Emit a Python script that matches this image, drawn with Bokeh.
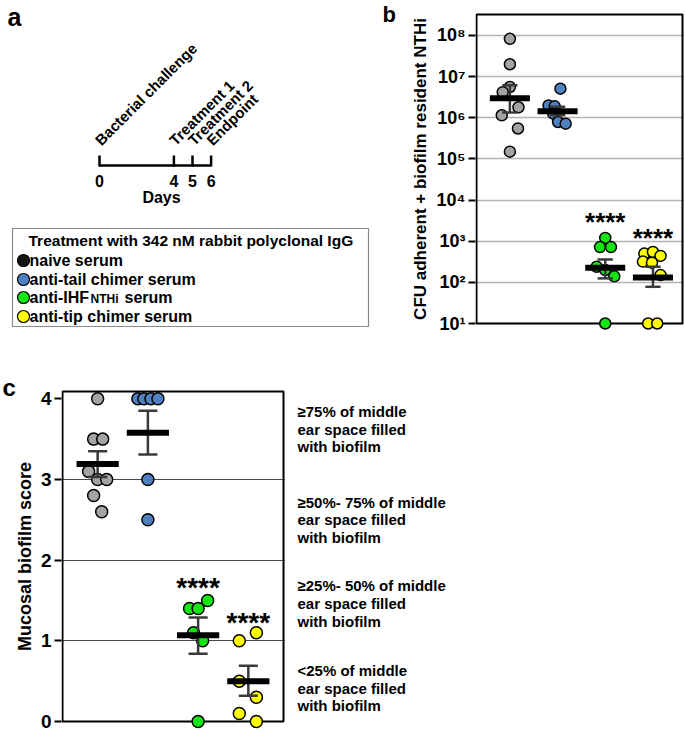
import numpy as np
from bokeh.plotting import figure
from bokeh.models import Range1d, FixedTicker, ColumnDataSource
from bokeh.layouts import column, row
from bokeh.core.properties import value
from bokeh.embed import file_html
from bokeh.resources import INLINE

FONT = "Liberation Sans"

# ---------------- data ----------------
legend_title = "Treatment with 342 nM rabbit polyclonal IgG"
legend_labels = ["naive serum", "anti-tail chimer serum", "anti-IHF", "anti-tip chimer serum"]
ihf_sub = "NTHi"
ihf_rest = "serum"
group_colors = ["#a3a3a3", "#4f81c0", "#14e614", "#ffff00"]
legend_colors = ["#161616", "#4f81c0", "#14e614", "#ffff00"]
categories = [1, 2, 3, 4]

timeline_days = [0, 4, 5, 6]
timeline_events = ["Bacterial challenge", "Treatment 1", "Treatment 2", "Endpoint"]
timeline_title = "Days"

# panel b: CFU (log scale)
cfu_naive = [8.3e7, 2.0e7, 5.6e6, 4.2e6, 1.8e6, 1.15e6, 5.5e5, 1.5e5]
cfu_tail = [5.1e6, 2.0e6, 1.9e6, 1.26e6, 7.9e5, 7.2e5]
cfu_ihf = [1200, 720, 720, 240, 200, 140, 10]
cfu_tip = [500, 550, 440, 320, 300, 150, 10, 10]
cfu_jit_naive = [0, 0, 0, -0.15, 0.18, -0.17, 0.17, 0]
cfu_jit_tail = [0.06, -0.19, -0.06, -0.09, 0.01, 0.17]
cfu_jit_ihf = [0, -0.11, 0.12, -0.18, 0, 0.19, 0]
cfu_jit_tip = [-0.18, 0, 0.16, -0.21, -0.02, 0.16, -0.10, 0.09]
cfu_mean = [3.0e6, 1.45e6, 225, 132]
cfu_err_lo = [1.35e6, 1.15e6, 125, 78]
cfu_err_hi = [6.2e6, 1.85e6, 360, 240]
cfu_star_cat = [3, 4]
cfu_star_y = [2900, 1200]
cfu_ticks = [1e1, 1e2, 1e3, 1e4, 1e5, 1e6, 1e7, 1e8]
cfu_tick_labels = ["10¹", "10²", "10³", "10⁴", "10⁵", "10⁶", "10⁷", "10⁸"]
cfu_label = "CFU adherent + biofilm resident NTHi"
cfu_axis_min, cfu_axis_max = 1e1, 10 ** 8.51

# panel c: mucosal biofilm score
score_naive = [4.0, 3.5, 3.5, 3.1, 3.0, 3.0, 2.8, 2.6]
score_tail = [4.0, 4.0, 4.0, 4.0, 3.0, 2.5]
score_ihf = [1.5, 1.4, 1.4, 1.1, 1.0, 0.0]
score_tip = [1.1, 1.0, 0.5, 0.3, 0.1, 0.0]
score_jit_naive = [0, -0.08, 0.10, -0.18, 0, 0.18, -0.08, 0.08]
score_jit_tail = [-0.20, -0.08, 0.06, 0.20, 0, 0]
score_jit_ihf = [0.19, -0.17, 0, -0.09, 0.09, 0]
score_jit_tip = [0.16, -0.18, -0.18, 0.16, -0.18, 0.16]
score_mean = [3.19, 3.58, 1.07, 0.50]
score_err_lo = [3.03, 3.31, 0.84, 0.32]
score_err_hi = [3.35, 3.85, 1.29, 0.69]
score_star_cat = [3, 4]
score_star_y = [1.66, 1.23]
score_ticks = [0, 1, 2, 3, 4]
score_grid = [1, 2, 3]
score_label = "Mucosal biofilm score"
score_axis_min, score_axis_max = 0.0, 4.09
score_desc = [
    ["≥75% of middle", "ear space filled", "with biofilm"],
    ["≥50%- 75% of middle", "ear space filled", "with biofilm"],
    ["≥25%- 50% of middle", "ear space filled", "with biofilm"],
    ["<25% of middle", "ear space filled", "with biofilm"],
]
score_desc_y = [3.84, 2.72, 1.68, 0.63]   # first-line centre of each block (score units)
desc_line_step = 0.218

# ---------------- layout (pixels) ----------------
ROW1_H, ROW2_H = 368, 363
A_W = 380
BL_W = 50            # strip with "b" and the b axis title
B_W = 684 - A_W - BL_W
B_BORDER_L = 45      # room for ticks + tick labels
B_BOX_L, B_BOX_R = 1, B_W - B_BORDER_L - 2   # box edges inside frame (frame px)
B_PX_TOP, B_PX_BOT = 14, 323                 # canvas px of axis max / min
CL_W = 36            # strip with "c" and the c axis title
C_W = 285 - CL_W
C_BORDER_L = 25
C_BOX_L, C_BOX_R = 1, C_W - C_BORDER_L - 2
C_PX_TOP, C_PX_BOT = 391 - ROW1_H, 721 - ROW1_H
D_W = 684 - CL_W - C_W
XB_BOX = (0.3, 4.62)
XC_BOX = (0.3, 4.7)


def extend(v0, p0, v1, p1, q0, q1):
    """linear value at pixel q0/q1 given value v0 at pixel p0 and v1 at p1"""
    k = (v1 - v0) / (p1 - p0)
    return v0 + (q0 - p0) * k, v0 + (q1 - p0) * k


def bold_text(p, **kw):
    kw.setdefault("text_font", value(FONT))
    kw.setdefault("text_font_style", "bold")
    kw.setdefault("text_color", "black")
    kw.setdefault("text_baseline", "middle")
    return p.text(**kw)


def blank(width, height, **kw):
    p = figure(width=width, height=height, x_range=Range1d(0, width), y_range=Range1d(height, 0),
               x_axis_location=None, y_axis_location=None, output_backend="svg",
               toolbar_location=None, min_border=0, **kw)
    p.grid.visible = False
    p.outline_line_color = None
    return p


# ---------------- panel a ----------------
DAY0_PX, PX_PER_DAY = 99, 18.6
pa = blank(A_W, ROW1_H)
pa.extra_x_ranges = {"days": Range1d(-DAY0_PX / PX_PER_DAY, (A_W - DAY0_PX) / PX_PER_DAY)}

bold_text(pa, x=[7], y=[16], text=["a"], text_font_size="25px", text_align="left")

LINE_Y = 165
pa.segment(x0=[min(timeline_days)], x1=[max(timeline_days)], y0=[LINE_Y], y1=[LINE_Y],
           x_range_name="days", line_color="black", line_width=2.5)
pa.segment(x0=timeline_days, x1=timeline_days, y0=[LINE_Y - 10] * 4, y1=[LINE_Y + 1] * 4,
           x_range_name="days", line_color="black", line_width=2.5)
bold_text(pa, x=timeline_days, y=[180] * 4, text=[str(d) for d in timeline_days],
          x_range_name="days", text_font_size="16px", text_align="center")
bold_text(pa, x=[161], y=[197], text=[timeline_title], text_font_size="16px", text_align="center")
bold_text(pa, x=timeline_days, y=[142] * 4, text=timeline_events, x_range_name="days",
          angle=np.pi / 4, text_font_size="15px", text_align="left", text_baseline="alphabetic",
          x_offset=-2)

# legend box
pa.quad(left=[12], right=[368], top=[228], bottom=[326], fill_color=None,
        line_color="#8a8a8a", line_width=1.2)
bold_text(pa, x=[28], y=[240], text=[legend_title], text_font_size="15.5px", text_align="left")
rows_y = [260, 279, 297, 316]
pa.scatter(x=[23] * 4, y=rows_y, size=12, fill_color=legend_colors, line_color="black",
           line_width=1.2)
bold_text(pa, x=[29] * 4, y=rows_y, text=legend_labels, text_font_size="16px", text_align="left")
bold_text(pa, x=[90], y=[rows_y[2] + 1.5], text=[ihf_sub], text_font_size="12px",
          text_align="left")
bold_text(pa, x=[124], y=[rows_y[2]], text=[ihf_rest], text_font_size="16px", text_align="left")

# ---------------- label strips ----------------
pbl = blank(BL_W, ROW1_H)
bold_text(pbl, x=[2], y=[14], text=["b"], text_font_size="22px", text_align="left")
bold_text(pbl, x=[40], y=[(B_PX_TOP + B_PX_BOT) / 2], text=[cfu_label], angle=np.pi / 2,
          text_font_size="17px", text_align="center")

pcl = blank(CL_W, ROW2_H)
bold_text(pcl, x=[2], y=[19], text=["c"], text_font_size="24px", text_align="left")
bold_text(pcl, x=[24], y=[(C_PX_TOP + C_PX_BOT) / 2], text=[score_label], angle=np.pi / 2,
          text_font_size="18px", text_align="center")


# ---------------- helpers for dot plots ----------------
def dot_source(groups, jitters):
    xs, ys, cols = [], [], []
    for cat, vals, jit, col in zip(categories, groups, jitters, group_colors):
        xs += [cat + j for j in jit]
        ys += list(vals)
        cols += [col] * len(vals)
    return ColumnDataSource(dict(x=xs, y=ys, c=cols))


def style_axis(p, font_size):
    p.outline_line_color = None
    p.xgrid.visible = False
    ax = p.yaxis[0]
    ax.axis_line_color = None
    ax.minor_tick_line_color = None
    ax.major_tick_in = 0
    ax.major_tick_out = 7
    ax.major_tick_line_width = 2
    ax.major_tick_line_color = "black"
    ax.major_label_text_font = FONT
    ax.major_label_text_font_style = "bold"
    ax.major_label_text_font_size = font_size
    ax.major_label_text_color = "black"
    ax.major_label_standoff = 3


cats = np.array(categories, dtype=float)

# ---------------- panel b ----------------
b_frame_w = B_W - B_BORDER_L
bx0, bx1 = extend(XB_BOX[0], B_BOX_L, XB_BOX[1], B_BOX_R, 0, b_frame_w)
by0, by1 = extend(np.log10(cfu_axis_max), B_PX_TOP, np.log10(cfu_axis_min), B_PX_BOT, 0, ROW1_H)
pb = figure(width=B_W, height=ROW1_H, x_range=Range1d(bx0, bx1),
            y_range=Range1d(10 ** by1, 10 ** by0), y_axis_type="log", x_axis_location=None,
            output_backend="svg", toolbar_location=None,
            min_border_left=B_BORDER_L, min_border_right=0, min_border_top=0, min_border_bottom=0)
style_axis(pb, "18px")
pb.yaxis.ticker = FixedTicker(ticks=cfu_ticks)
pb.yaxis.major_label_overrides = {t: l for t, l in zip(cfu_ticks, cfu_tick_labels)}
pb.ygrid.grid_line_color = "#b4b4b4"
pb.ygrid.grid_line_width = 1.5

src_b = dot_source([cfu_naive, cfu_tail, cfu_ihf, cfu_tip],
                   [cfu_jit_naive, cfu_jit_tail, cfu_jit_ihf, cfu_jit_tip])
pb.quad(left=[XB_BOX[0]], right=[XB_BOX[1]], bottom=[cfu_axis_min], top=[cfu_axis_max],
        fill_color=None, line_color="black", line_width=2)
pb.scatter("x", "y", source=src_b, size=11, fill_color="c", line_color="black", line_width=1.5)
pb.segment(x0=cats, x1=cats, y0=cfu_err_lo, y1=cfu_err_hi, line_color="#3a3a3a", line_width=2.5)
for yv in (cfu_err_lo, cfu_err_hi):
    pb.segment(x0=cats - 0.16, x1=cats + 0.16, y0=yv, y1=yv, line_color="#3a3a3a", line_width=2.5)
pb.segment(x0=cats - 0.42, x1=cats + 0.42, y0=cfu_mean, y1=cfu_mean, line_color="black",
           line_width=6)
bold_text(pb, x=cfu_star_cat, y=cfu_star_y, text=["****"] * 2, text_font_size="26px",
          text_align="center")

# ---------------- panel c ----------------
c_frame_w = C_W - C_BORDER_L
cx0, cx1 = extend(XC_BOX[0], C_BOX_L, XC_BOX[1], C_BOX_R, 0, c_frame_w)
cy0, cy1 = extend(score_axis_max, C_PX_TOP, score_axis_min, C_PX_BOT, 0, ROW2_H)
pc = figure(width=C_W, height=ROW2_H, x_range=Range1d(cx0, cx1), y_range=Range1d(cy1, cy0),
            x_axis_location=None, output_backend="svg", toolbar_location=None,
            min_border_left=C_BORDER_L, min_border_right=0, min_border_top=0, min_border_bottom=0)
style_axis(pc, "19px")
pc.yaxis.ticker = FixedTicker(ticks=score_ticks)
pc.ygrid.ticker = FixedTicker(ticks=score_grid)
pc.ygrid.grid_line_color = "#4a4a4a"
pc.ygrid.grid_line_width = 1.2

src_c = dot_source([score_naive, score_tail, score_ihf, score_tip],
                   [score_jit_naive, score_jit_tail, score_jit_ihf, score_jit_tip])
pc.quad(left=[XC_BOX[0]], right=[XC_BOX[1]], bottom=[score_axis_min], top=[score_axis_max],
        fill_color=None, line_color="black", line_width=2)
pc.scatter("x", "y", source=src_c, size=12, fill_color="c", line_color="black", line_width=1.5)
pc.segment(x0=cats, x1=cats, y0=score_err_lo, y1=score_err_hi, line_color="#3a3a3a", line_width=2.5)
for yv in (score_err_lo, score_err_hi):
    pc.segment(x0=cats - 0.19, x1=cats + 0.19, y0=yv, y1=yv, line_color="#3a3a3a", line_width=2.5)
pc.segment(x0=cats - 0.42, x1=cats + 0.42, y0=score_mean, y1=score_mean, line_color="black",
           line_width=6)
bold_text(pc, x=score_star_cat, y=score_star_y, text=["****"] * 2, text_font_size="28px",
          text_align="center")

# description texts to the right of panel c (shares panel c's score scale)
pd = figure(width=D_W, height=ROW2_H, x_range=Range1d(0, D_W), y_range=pc.y_range,
            x_axis_location=None, y_axis_location=None, output_backend="svg",
            toolbar_location=None, min_border=0)
pd.grid.visible = False
pd.outline_line_color = None
desc_x, desc_y, desc_t = [], [], []
for block, y0 in zip(score_desc, score_desc_y):
    for i, line in enumerate(block):
        desc_x.append(12)
        desc_y.append(y0 - i * desc_line_step)
        desc_t.append(line)
bold_text(pd, x=desc_x, y=desc_y, text=desc_t, text_font_size="15px", text_align="left")

layout = column(row(pa, pbl, pb), row(pcl, pc, pd))
open("out.html", "w").write(file_html(layout, INLINE))
